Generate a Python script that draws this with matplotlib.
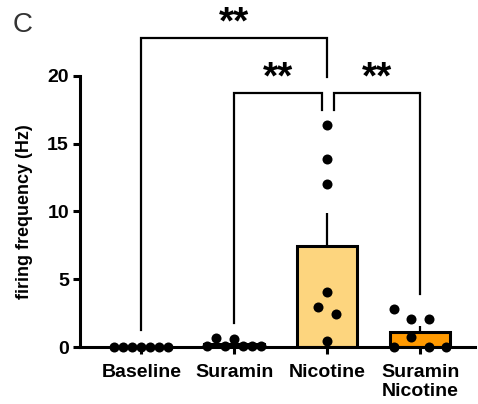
import numpy as np
import matplotlib
matplotlib.use("Agg")
import matplotlib.pyplot as plt

plt.rcParams['font.family'] = ['Liberation Sans', 'DejaVu Sans']

# Data (Hz)
groups = ["Baseline", "Suramin", "Nicotine", "Suramin\nNicotine"]
baseline = [0.0, 0.0, 0.0, 0.0, 0.0, 0.0, 0.0]
suramin = [0.05, 0.69, 0.05, 0.59, 0.05, 0.05, 0.05]
nicotine = [16.4, 13.85, 12.0, 4.04, 2.93, 2.41, 0.47]
suramin_nicotine = [0.0, 0.76, 0.0, 0.0, 2.78, 2.04, 2.04]
values = [baseline, suramin, nicotine, suramin_nicotine]
bar_colors = ["white", "white", "#FDD57E", "#FF9900"]

# significance brackets: (x1, x2, height, left leg bottom, right leg bottom, label)
brackets = [
    (0, 2.0, 22.8, 1.25, 19.9, "**"),
    (1, 1.94, 18.75, 1.8, 17.5, "**"),
    (2.07, 3, 18.75, 17.5, 3.9, "**"),
]

fig = plt.figure(figsize=(4.78, 4.04), dpi=100)
ax = fig.add_axes([0.1674, 0.141, 0.8263, 0.671])
ax.set_xlim(-0.66, 3.59)
ax.set_ylim(0, 20)

# marker size in pixels -> data units
dot_px = 10
px_x = ax.transData.transform((1, 0))[0] - ax.transData.transform((0, 0))[0]
px_y = ax.transData.transform((0, 1))[1] - ax.transData.transform((0, 0))[1]
dx = dot_px / px_x
dy = dot_px / px_y


def swarm_offsets(vals):
    # group points of similar value into rows, spread each row sideways
    vals = np.asarray(vals)
    order = np.argsort(vals, kind="stable")
    rows = []
    for i in order:
        if rows and vals[i] - vals[rows[-1][0]] < dy * 1.08:
            rows[-1].append(i)
        else:
            rows.append([i])
    offs = np.zeros(len(vals))
    for r in rows:
        r = sorted(r)
        n = len(r)
        gap = 0.9 * dx if n >= 5 else 1.75 * dx
        shift = -0.9 * dx if n == 3 else 0.0
        for k, i in enumerate(r):
            offs[i] = (k - (n - 1) / 2) * gap + shift
    return offs


for i, v in enumerate(values):
    v = np.asarray(v)
    m = v.mean()
    sem = v.std(ddof=1) / np.sqrt(len(v))
    ax.bar(i, m, width=0.645, color=bar_colors[i], edgecolor="black",
           linewidth=2.2, zorder=2)
    ax.plot([i, i], [m, m + sem], color="black", lw=1.6, zorder=1,
            solid_capstyle="butt")
    ax.scatter(i + swarm_offsets(v), v, s=52, color="black", zorder=4,
               clip_on=False, linewidths=0)

for x1, x2, h, b1, b2, lab in brackets:
    ax.plot([x1, x1, x2, x2], [b1, h, h, b2], color="black", lw=1.6,
            clip_on=False, solid_joinstyle="miter")
    ax.text((x1 + x2) / 2, h + 0.35, lab, ha="center", va="baseline",
            fontsize=28, fontweight="bold", clip_on=False)

ax.spines["top"].set_visible(False)
ax.spines["right"].set_visible(False)
ax.spines["left"].set_linewidth(2.2)
ax.spines["bottom"].set_linewidth(2.2)
ax.set_xticks(range(len(groups)))
ax.set_xticklabels(groups, fontsize=14, fontweight="bold", linespacing=1.2)
ax.set_yticks([0, 5, 10, 15, 20])
ax.set_yticklabels(["0", "5", "10", "15", "20"], fontsize=14, fontweight="bold")
ax.tick_params(axis="both", width=2.2, length=5)
ax.tick_params(axis="x", pad=7)
ax.tick_params(axis="y", pad=3)
ax.set_ylabel("firing frequency (Hz)", fontsize=13, fontweight="bold", labelpad=10)

fig.text(0.027, 0.92, "C", fontsize=20, color="#333333")

fig.savefig("out.png", dpi=100)
